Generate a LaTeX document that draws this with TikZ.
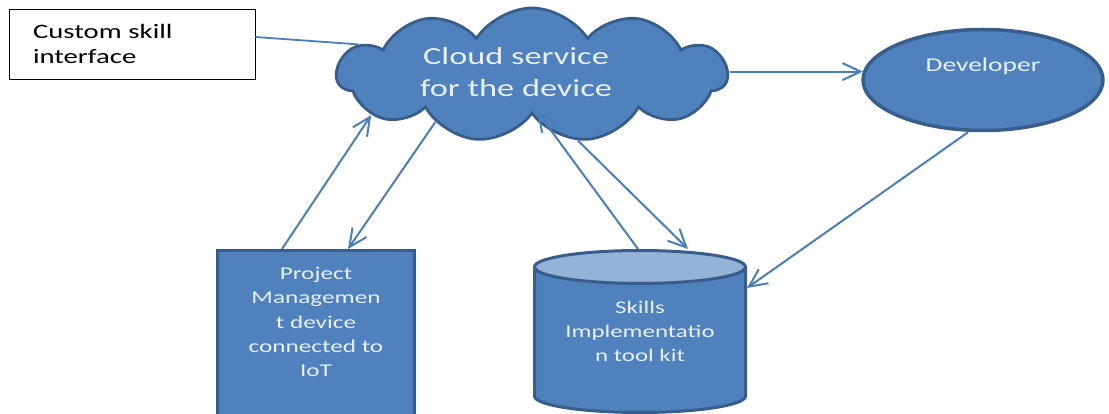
\documentclass[tikz,border=0pt]{standalone}
\usepackage{fontspec}
\usepackage{xcolor}
\usepackage{tikz}
\usetikzlibrary{arrows.meta,shapes.symbols,shapes.geometric}
\newfontfamily\calib{Carlito}[FakeStretch=1.4]
\definecolor{nodefill}{HTML}{4F81BD}
\definecolor{nodeedge}{HTML}{385D8A}
\definecolor{capfill}{HTML}{95B3D7}
\definecolor{wirecol}{HTML}{4A7EBB}
\definecolor{paletext}{HTML}{E9EFF7}
\tikzset{
  note/.style={rectangle, draw=black, line width=0.8pt, fill=white, align=left,
    text width=198pt, inner xsep=24pt, minimum height=70pt,
    font=\calib\fontsize{20.5}{25}\selectfont},
  blob/.style={cloud, cloud puffs=11, cloud puff arc=115, aspect=2.9,
    draw=nodeedge, fill=nodefill, line width=2.8pt},
  oval/.style={ellipse, draw=nodeedge, fill=nodefill, line width=3.5pt},
  device/.style={rectangle, draw=nodeedge, fill=nodefill, line width=3pt},
  store/.style={cylinder, shape border rotate=90, aspect=0.21, text width=150pt,
    cylinder uses custom fill, cylinder body fill=nodefill, cylinder end fill=capfill,
    draw=nodeedge, line width=3pt},
  inner/.style={text=paletext, align=center, inner sep=0pt},
  flow/.style={-{Straight Barb[length=18pt,width=17pt]}, line width=2pt, draw=wirecol},
  link/.style={line width=1.8pt, draw=wirecol},
}

\begin{document}
\begin{tikzpicture}[x=1pt, y=-1pt]
  \clip (0,0) rectangle (1109,414);
  \fill[white] (0,0) rectangle (1109,414);

  \node[note] (csi) at (132,44) {Custom skill\\interface};

  \node[blob, minimum width=390pt, minimum height=134pt,
    label={[inner, font=\calib\fontsize{24.5}{32}\selectfont, xshift=-16pt, yshift=3pt]center:{Cloud service\\for the device}}]
    (cloud) at (532,75) {};

  \node[oval, minimum width=240pt, minimum height=101pt,
    label={[inner, anchor=base, yshift=14pt, font=\calib\fontsize{19.6}{24}\selectfont]center:Developer}]
    (dev) at (983,80) {};

  \node[device, anchor=north west, minimum width=197pt, minimum height=200pt,
    label={[inner, anchor=north, yshift=-18pt, font=\calib\fontsize{18}{24.3}\selectfont]north:{Project\\Managemen\\t device\\connected to\\IoT}}]
    (pm) at (216,249) {};

  \node[store, anchor=north, minimum width=211pt, minimum height=162pt,
    label={[inner, anchor=north, yshift=-52pt, font=\calib\fontsize{17.8}{24}\selectfont]north:{Skills\\Implementatio\\n tool kit}}]
    (cyl) at (640,249) {};

  \draw[link] ([yshift=7pt]csi.east) -- (cloud.170);
  \draw[flow] (cloud.east |- dev.176) -- (dev.176);
  \draw[flow] ([xshift=66pt]pm.north west) -- (cloud.194);
  \draw[flow] (cloud.206) -- ([xshift=132pt]pm.north west);
  \draw[flow] ([xshift=-2pt]cyl.north) -- ([xshift=5pt,yshift=4pt]cloud.south);
  \draw[flow] (cloud.305) -- ([xshift=48pt]cyl.north);
  \draw[flow] ([xshift=-15pt]dev.south) -- (cyl.27);
\end{tikzpicture}
\end{document}
